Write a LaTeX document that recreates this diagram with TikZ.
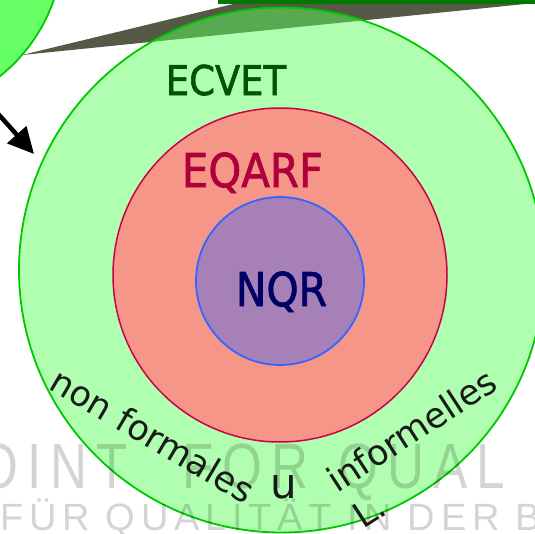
\documentclass[tikz,border=0pt]{standalone}
\usepackage{fontspec}
\setmainfont{DejaVu Sans}
\newfontfamily\titlefont[FakeBold=1.6]{DejaVu Sans}
\newfontfamily\wmfont[LetterSpace=18]{Liberation Sans}
\newfontfamily\wmfontb[LetterSpace=15]{Liberation Sans}
\usetikzlibrary{arrows.meta}
\definecolor{cornergreen}{RGB}{102,255,102}
\definecolor{ringedge}{RGB}{0,200,0}
\definecolor{ringfill}{RGB}{92,255,92}
\definecolor{wedgegray}{RGB}{84,90,70}
\definecolor{topgreen}{RGB}{0,120,0}
\definecolor{eqarfedge}{RGB}{204,0,68}
\definecolor{eqarffill}{RGB}{245,150,137}
\definecolor{nqredge}{RGB}{51,102,255}
\definecolor{nqrfill}{RGB}{166,128,182}
\definecolor{ecvettext}{RGB}{0,85,0}
\definecolor{eqarftext}{RGB}{176,0,58}
\definecolor{nqrtext}{RGB}{0,0,102}
\tikzset{
  title/.style={inner sep=0pt, anchor=base},
  ringtext/.style={inner sep=0pt, text=black!90, font=\fontsize{35}{40}\selectfont},
  watermark/.style={inner sep=0pt, anchor=base west, text=black, text opacity=0.17},
  wmtop/.style={watermark, font=\wmfont\fontsize{64}{64}\selectfont, xscale=0.8},
}
\begin{document}
\begin{tikzpicture}[x=1pt, y=-1pt]
\useasboundingbox (0,0) rectangle (535,533);
\clip (0,0) rectangle (535,533);
% top-left elements
\draw[draw=ringedge, line width=1.8pt, fill=cornergreen] (-105,-55) circle [radius=168];
\fill[wedgegray] (22,55) -- (258,-2) -- (535,-2) -- (535,3) -- cycle;
\fill[topgreen] (218,-2) rectangle (535,3.5);
\coordinate (a0) at (-8,107);
\coordinate (a1) at (34,154);
\draw[line width=4.5pt, -{Triangle[length=26pt,width=25pt]}] (a0) -- (a1);
% circles
\draw[draw=ringedge, line width=1.8pt, fill=ringfill, fill opacity=0.485] (281.5,270) circle [radius=262.5];
\draw[draw=eqarfedge, line width=1.5pt, fill=eqarffill] (280,275) circle [radius=167];
\draw[draw=nqredge, line width=1.8pt, fill=nqrfill] (280,281) circle [radius=84];
% watermark
\node[wmtop] (wm1) at (-22,488) {OINT};
\node[wmtop] (wm2) at (182,488) {FOR};
\node[wmtop] (wm3) at (338,488) {QUAL};
\node[watermark, font=\wmfontb\fontsize{38}{38}\selectfont] (wm4) at (0,530) {FÜR QUALITÄT IN DER B};
% titles
\node[title, text=ecvettext, font=\titlefont\fontsize{41}{41}\selectfont, xscale=0.9] (ecvet) at (226,95) {ECVET};
\node[title, text=eqarftext, font=\titlefont\fontsize{46.5}{46.5}\selectfont, xscale=0.9] (eqarf) at (252.5,187) {EQARF};
\node[title, text=nqrtext, font=\titlefont\fontsize{46.5}{46.5}\selectfont, xscale=0.88] (nqr) at (281.5,306) {NQR};
% ring text
\node[ringtext, anchor=base west, rotate=-30.5] (nonformal) at (47,388) {non formales};
\node[ringtext, anchor=base, font=\fontsize{42}{42}\selectfont] (und) at (284,498) {u};
\node[ringtext, anchor=base west, rotate=33] (informal) at (337,494) {informelles};
\node[ringtext, anchor=base west, rotate=33] (lern) at (363,530) {L.};
\end{tikzpicture}
\end{document}
